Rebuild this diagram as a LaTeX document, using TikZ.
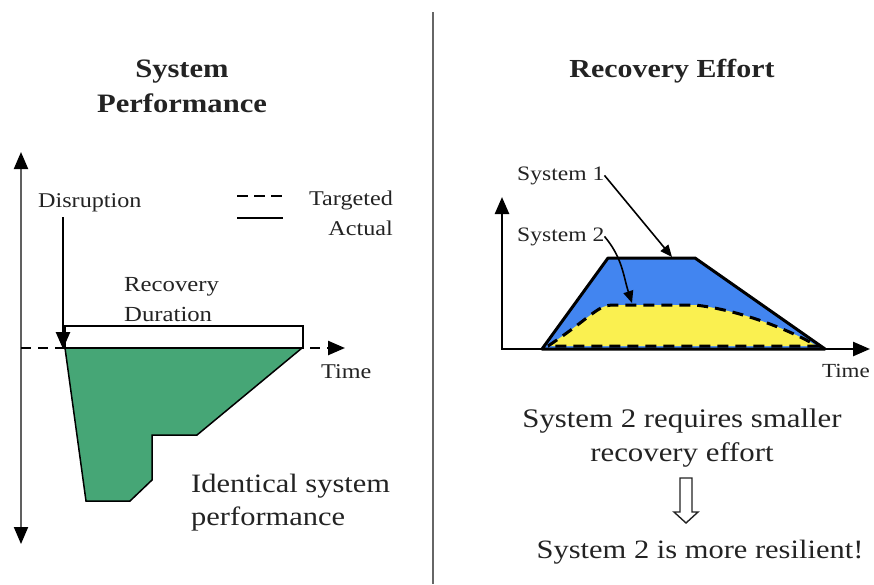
\documentclass[tikz,border=0pt]{standalone}
\usepackage{fontspec}
\setmainfont[FakeStretch=1.15]{Liberation Serif}
\usepackage{tikz}
\usetikzlibrary{arrows.meta, shapes}

\definecolor{perfgreen}{RGB}{70,166,118}
\definecolor{effblue}{RGB}{66,133,240}
\definecolor{effyellow}{RGB}{250,240,80}
\definecolor{ink}{RGB}{35,35,35}

\begin{document}
\begin{tikzpicture}[x=1pt, y=-1pt,
    txt/.style={inner sep=0pt, text=ink},
    axhead/.tip={Triangle[length=17pt, width=14pt, color=black]},
    lblhead/.tip={Triangle[length=12pt, width=10pt]}]
        \useasboundingbox (0,0) rectangle (874,584);
        \draw[gray!80!black, line width=1.5pt] (433,12) -- (433,584);

        \node[txt, font=\fontsize{26.6}{35}\selectfont\bfseries, align=center] (perftitle) at (182,86) {System\\Performance};
        \node[txt, font=\fontsize{26}{30}\selectfont\bfseries, anchor=base] (efftitle) at (672,77) {Recovery Effort};

        \coordinate (ptop) at (21,152);
        \coordinate (pbot) at (21,544);
        \coordinate (porig) at (21,348);
        \coordinate (ptime) at (345,348);
        \coordinate (dhit) at (63,349);

        \fill[perfgreen] (65,348) -- (302,348) -- (197,435) -- (152,435) -- (152,480) -- (130,501) -- (86,501) -- cycle;
        \draw[line width=1.5pt] (302,348) -- (197,435) -- (152,435) -- (152,480) -- (130,501) -- (86,501) -- (65,348);
        \draw[line width=2.5pt, fill=white] (65,326) rectangle (303,348);

        \draw[gray!75!black, line width=2pt, {axhead}-{axhead}] (ptop) -- (pbot);
        \draw[line width=2.5pt, dash pattern=on 10pt off 7pt, -{axhead}] (porig) -- (ptime);
        \draw[line width=2.5pt] (65,348) -- (303,348);

        \node[txt, font=\fontsize{21}{25}\selectfont, anchor=base west] (disr) at (38,207) {Disruption};
        \draw[line width=2.5pt, -{axhead}] (63,217) -- (dhit);

        \draw[line width=2.5pt, dash pattern=on 11pt off 6pt] (237,196) -- (283,196);
        \draw[line width=2.5pt] (237,218) -- (283,218);
        \node[txt, font=\fontsize{21}{30}\selectfont, align=right, anchor=north east] (legend) at (393,191) {Targeted\\Actual};

        \node[txt, font=\fontsize{21.5}{30}\selectfont, align=left, anchor=south west] (recdur) at (124,322) {Recovery\\Duration};
        \node[txt, font=\fontsize{21}{25}\selectfont, anchor=base west] (ltime) at (321,378) {Time};
        \node[txt, font=\fontsize{26.5}{33}\selectfont, align=left, anchor=north west] (ident) at (191,474) {Identical system\\performance};

        \coordinate (etop) at (502,197);
        \coordinate (eorig) at (502,349);
        \coordinate (etime) at (870,349);

        \draw[line width=3pt, fill=effblue, line join=round] (542,349) -- (608,258) -- (695,258) -- (825,349) -- cycle;
        \draw[line width=3pt, fill=effyellow, dash pattern=on 11pt off 7pt]
            (548,346) .. controls (590,318) and (598,305) .. (612,305) -- (695,305)
            .. controls (740,310) and (790,330) .. (817,346) -- cycle;
        \draw[line width=2.5pt, {axhead}-{axhead}] (etop) -- (eorig) -- (etime);

        \node[txt, font=\fontsize{20.5}{25}\selectfont, anchor=base west] (sys1) at (517,180) {System 1};
        \node[txt, font=\fontsize{20.5}{25}\selectfont, anchor=base west] (sys2) at (517,241) {System 2};
        \coordinate (s1tip) at (672,257);
        \coordinate (s2tip) at (632,303);
        \draw[line width=1.6pt, -{lblhead}] (sys1.east) -- (s1tip);
        \draw[line width=1.6pt, -{lblhead}] (sys2.east) to[out=-50, in=108] (s2tip);
        \node[txt, font=\fontsize{20}{25}\selectfont, anchor=base east] (rtime) at (870,377) {Time};

        \node[txt, font=\fontsize{26.8}{34}\selectfont, align=center, anchor=north] (smaller) at (682,409) {System 2 requires smaller\\recovery effort};
        \node[txt, font=\fontsize{26.5}{30}\selectfont, anchor=base] (resil) at (700,558) {System 2 is more resilient!};
        \draw[line width=1.4pt, ink, fill=white] (680,478) -- (692,478) -- (692,512) -- (698,512) -- (686,523) -- (674,512) -- (680,512) -- cycle;
    \end{tikzpicture}
\end{document}
